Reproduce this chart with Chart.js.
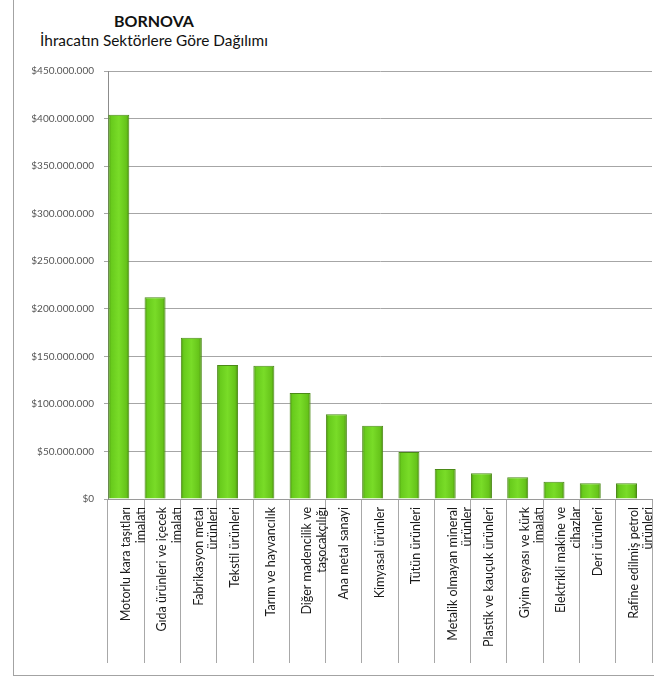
<!DOCTYPE html>
<html lang="tr">
<head>
<meta charset="utf-8">
<title>Bornova - İhracatın Sektörlere Göre Dağılımı</title>
<script src="https://cdn.jsdelivr.net/npm/chart.js@4/dist/chart.umd.min.js"></script>
<style>
  html, body { margin: 0; padding: 0; background: #fff; }
  #wrap { position: relative; width: 654px; height: 677px; overflow: hidden; font-family: Lato, "Open Sans", sans-serif; }
  #frame { position: absolute; left: 13px; top: -2px; width: 700px; height: 678px; border-left: 1px solid #a3a3a3; border-bottom: 1px solid #a3a3a3; box-sizing: border-box; }
  #heading { position: absolute; left: 33px; width: 242px; text-align: center; color: #111; }
  #heading .t1 { position: absolute; left: 0; width: 100%; top: 11px; font-size: 16px; line-height: 20px; font-weight: bold; }
  #heading .t2 { position: absolute; left: 0; width: 100%; top: 31px; font-size: 15.4px; line-height: 19px; white-space: nowrap; }
  canvas { position: absolute; left: 0; top: 0; }
</style>
</head>
<body>
<div id="wrap">
  <div id="frame"></div>
  <div id="heading">
    <div class="t1">BORNOVA</div>
    <div class="t2">İhracatın Sektörlere Göre Dağılımı</div>
  </div>
  <canvas id="chart" width="654" height="677"></canvas>
</div>
<script>
// ---------- Data ----------
const sectors = [
  ["Motorlu kara taşıtları", "imalatı"],
  ["Gıda ürünleri ve içecek", "imalatı"],
  ["Fabrikasyon metal", "ürünleri"],
  "Tekstil ürünleri",
  "Tarım ve hayvancılık",
  ["Diğer madencilik ve", "taşocakçılığı"],
  "Ana metal sanayi",
  "Kimyasal ürünler",
  "Tütün ürünleri",
  ["Metalik olmayan mineral", "ürünler"],
  "Plastik ve kauçuk ürünleri",
  ["Giyim eşyası ve kürk", "imalatı"],
  ["Elektrikli makine ve", "cihazlar"],
  "Deri ürünleri",
  ["Rafine edilmiş petrol", "ürünleri"]
];

// export value in USD
const exportUsd = [
  404000000, 212000000, 169500000, 141000000, 140000000,
  111500000, 89000000, 77000000, 49500000, 31500000,
  27000000, 22800000, 18200000, 16500000, 16500000
];

// empty second series (the original chart keeps a blank slot next to each bar)
const emptySeries = sectors.map(() => null);

const yTicks = { min: 0, max: 450000000, step: 50000000 };

const CAT_PCT = 0.81;
const BAR_PCT = 1.43;

// ---------- Helpers ----------
function moneyLabel(v) {
  return "$" + String(Math.round(v)).replace(/\B(?=(\d{3})+(?!\d))/g, ".");
}

// bevel-like horizontal gradient, centred on each bar
function barFill(ctx) {
  const chart = ctx.chart;
  const xs = chart.scales.x;
  const fallback = "#6ccf1e";
  if (!xs || ctx.dataIndex === undefined) return fallback;
  const slot = (xs.width / sectors.length) * CAT_PCT / 2;
  const cx = xs.getPixelForValue(ctx.dataIndex) - slot / 2;
  const half = slot * BAR_PCT / 2;
  if (!Number.isFinite(cx) || !Number.isFinite(half)) return fallback;
  const g = chart.ctx.createLinearGradient(cx - half, 0, cx + half, 0);
  g.addColorStop(0, "#4c9410");
  g.addColorStop(0.14, "#68cb1c");
  g.addColorStop(0.5, "#79dc28");
  g.addColorStop(0.86, "#66c41a");
  g.addColorStop(1, "#4a8a10");
  return g;
}

const FONT = "Lato, 'Open Sans', sans-serif";

// ---------- Chart ----------
const chart = new Chart(document.getElementById("chart"), {
  type: "bar",
  data: {
    labels: sectors,
    datasets: [
      {
        label: "İhracat",
        data: exportUsd,
        backgroundColor: barFill,
        borderColor: "#4b8a17",
        borderWidth: 1,
        categoryPercentage: CAT_PCT,
        barPercentage: BAR_PCT
      },
      {
        label: "",
        data: emptySeries,
        categoryPercentage: CAT_PCT,
        barPercentage: BAR_PCT
      }
    ]
  },
  options: {
    responsive: false,
    animation: false,
    layout: { padding: { top: 71, right: 2, left: 0, bottom: 0 } },
    plugins: {
      legend: { display: false },
      tooltip: { enabled: false },
      title: { display: false }
    },
    scales: {
      x: {
        offset: true,
        grid: {
          offset: true,
          drawOnChartArea: false,
          drawTicks: true,
          tickLength: 164,
          color: "#a8a8a8"
        },
        border: { display: true, color: "#9a9a9a" },
        ticks: {
          autoSkip: false,
          minRotation: 90,
          maxRotation: 90,
          padding: -156,
          color: "#1a1a1a",
          font: { family: FONT, size: 12.5, lineHeight: 1.15 }
        },
        afterFit: (s) => { s.height = 178; }
      },
      y: {
        min: yTicks.min,
        max: yTicks.max,
        grid: {
          color: "#a6a6a6",
          tickLength: 4,
          drawTicks: true
        },
        border: { display: true, color: "#8c8c8c" },
        ticks: {
          stepSize: yTicks.step,
          padding: 10,
          color: "#555",
          font: { family: FONT, size: 10 },
          callback: (v) => moneyLabel(v)
        },
        afterFit: (s) => { s.width = 108; }
      }
    }
  }
});
</script>
</body>
</html>
